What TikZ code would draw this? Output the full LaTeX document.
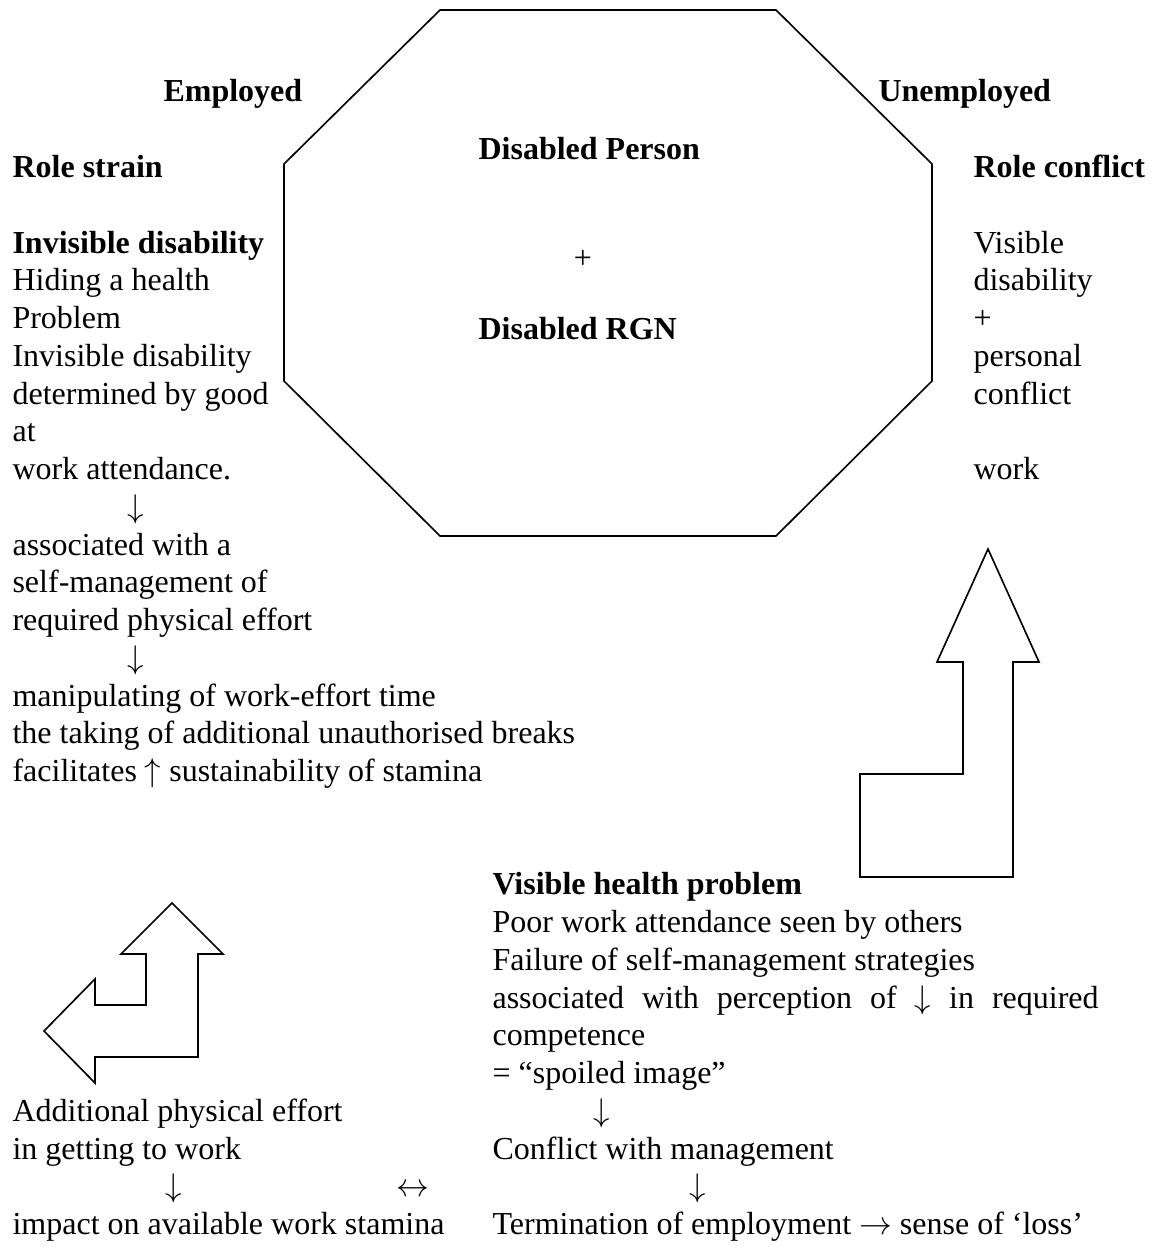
\documentclass[tikz,border=0pt]{standalone}
\usepackage{fontspec}
\setmainfont{Liberation Serif}
\usepackage{tikz}
\usetikzlibrary{positioning,calc}

\begin{document}
\begin{tikzpicture}[x=0.3656pt,y=-0.3656pt,
  every node/.style={inner sep=0pt,font=\fontsize{11.7pt}{13.8pt}\selectfont},
  txt/.style={anchor=base west,align=left},
  outline/.style={draw,line width=0.6pt,line join=miter}]
\useasboundingbox (0,0) rectangle (1154,1247);
% octagon in the middle
\draw[outline] (440,10) -- (776,10) -- (932,164) -- (932,381) -- (776,536) -- (440,536) -- (284,381) -- (284,164) -- cycle;
\node[txt] (dperson) at (478,160) {\bfseries Disabled Person};
\node[anchor=base] (plus) at (583,268) {+};
\node[txt] (drgn) at (478,339) {\bfseries Disabled RGN};
% column headings
\node[txt] (employed) at (163,102) {\bfseries Employed};
\node[txt] (unemployed) at (878,102) {\bfseries Unemployed};
% left column (anchored at its last line)
\node[txt] (strain) at (12,781.5) {\bfseries Role strain\\[13.8pt]
\bfseries Invisible disability\\
Hiding a health\\
Problem\\
Invisible disability\\
determined by good\\
at\\
work attendance.\\
\hspace*{42pt}$\downarrow$\\
associated with a\\
self-management of\\
required physical effort\\
\hspace*{42pt}$\downarrow$\\
manipulating of work-effort time\\
the taking of additional unauthorised breaks\\
facilitates $\uparrow$ sustainability of stamina};
% right column
\node[txt] (conflict) at (973,479.5) {\bfseries Role conflict\\[13.8pt]
Visible\\
disability\\
+\\
personal\\
conflict\\[13.8pt]
work};
% block arrows
\draw[outline] (988,549) -- (1039,662) -- (1013,662) -- (1013,877) -- (860,877) -- (860,774) -- (963,774) -- (963,662) -- (937,662) -- cycle;
\draw[outline] (172,903) -- (223,954) -- (198,954) -- (198,1057) -- (95,1057) -- (95,1083) -- (44,1031) -- (95,979) -- (95,1005) -- (146,1005) -- (146,954) -- (121,954) -- cycle;
% bottom right
\node[txt] (visible) at (492,1234.5) {\bfseries Visible health problem\\
Poor work attendance seen by others\\
Failure of self-management strategies\\
\makebox[221.6pt][s]{associated with perception of $\downarrow$ in required}\\
competence\\
= “spoiled image”\\
\hspace*{37pt}$\downarrow$\\
Conflict with management\\
\hspace*{72pt}$\downarrow$\\
Termination of employment $\rightarrow$ sense of ‘loss’};
% bottom left
\node[txt] (effort) at (12,1234.5) {Additional physical effort\\
in getting to work\\
\hspace*{56pt}$\downarrow$\\
impact on available work stamina};
\node[anchor=base] (both) at (413,1196) {$\leftrightarrow$};
\end{tikzpicture}
\end{document}
